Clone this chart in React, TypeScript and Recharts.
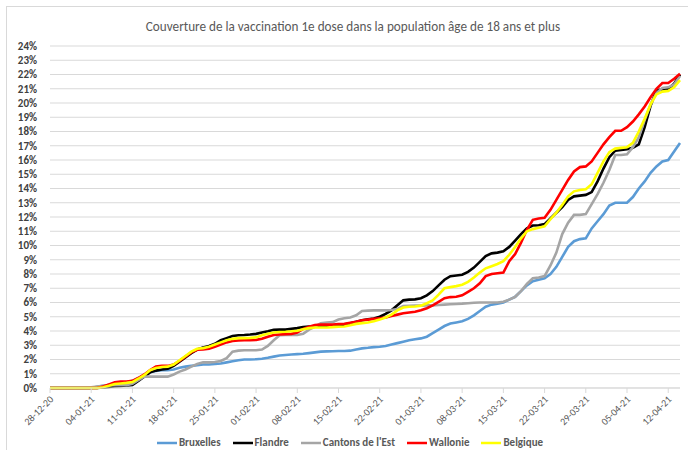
import React from 'react';
import { LineChart, Line, XAxis, YAxis, CartesianGrid } from 'recharts';

const dates = [
  '28-12-20','29-12-20','30-12-20','31-12-20',
  '01-01-21','02-01-21','03-01-21','04-01-21','05-01-21','06-01-21','07-01-21','08-01-21','09-01-21','10-01-21',
  '11-01-21','12-01-21','13-01-21','14-01-21','15-01-21','16-01-21','17-01-21','18-01-21','19-01-21','20-01-21',
  '21-01-21','22-01-21','23-01-21','24-01-21','25-01-21','26-01-21','27-01-21','28-01-21','29-01-21','30-01-21','31-01-21',
  '01-02-21','02-02-21','03-02-21','04-02-21','05-02-21','06-02-21','07-02-21','08-02-21','09-02-21','10-02-21',
  '11-02-21','12-02-21','13-02-21','14-02-21','15-02-21','16-02-21','17-02-21','18-02-21','19-02-21','20-02-21',
  '21-02-21','22-02-21','23-02-21','24-02-21','25-02-21','26-02-21','27-02-21','28-02-21',
  '01-03-21','02-03-21','03-03-21','04-03-21','05-03-21','06-03-21','07-03-21','08-03-21','09-03-21','10-03-21',
  '11-03-21','12-03-21','13-03-21','14-03-21','15-03-21','16-03-21','17-03-21','18-03-21','19-03-21','20-03-21',
  '21-03-21','22-03-21','23-03-21','24-03-21','25-03-21','26-03-21','27-03-21','28-03-21','29-03-21','30-03-21','31-03-21',
  '01-04-21','02-04-21','03-04-21','04-04-21','05-04-21','06-04-21','07-04-21','08-04-21','09-04-21','10-04-21',
  '11-04-21','12-04-21','13-04-21','14-04-21',
];

const bruxelles = [
  0,0,0,0,0,0,0,0,
  0.08,0.15,0.2,0.25,0.3,0.4,0.5,
  0.7,0.9,1.1,1.2,1.25,1.25,1.3,
  1.42,1.5,1.55,1.6,1.65,1.65,1.68,
  1.72,1.8,1.88,1.95,2.0,2.0,2.02,
  2.05,2.12,2.2,2.28,2.32,2.35,2.38,
  2.4,2.45,2.5,2.55,2.57,2.58,2.6,
  2.6,2.62,2.7,2.78,2.82,2.87,2.9,
  2.95,3.05,3.15,3.25,3.35,3.42,3.48,
  3.6,3.85,4.1,4.35,4.52,4.6,4.68,
  4.85,5.1,5.4,5.7,5.85,5.92,6.0,
  6.2,6.4,6.8,7.2,7.5,7.6,7.7,
  8.0,8.5,9.2,9.9,10.3,10.45,10.5,
  11.2,11.7,12.2,12.8,13.0,13.0,13.0,
  13.4,14.0,14.5,15.1,15.55,15.9,16.0,
  16.6,17.2,
];

const flandre = [
  0,0,0,0,0,0,0,0,
  0,0.03,0.08,0.12,0.15,0.18,0.22,
  0.5,0.8,1.1,1.22,1.3,1.36,1.55,
  1.85,2.15,2.45,2.7,2.85,2.95,3.1,
  3.35,3.5,3.65,3.7,3.72,3.75,3.8,
  3.9,3.98,4.08,4.1,4.1,4.15,4.2,
  4.28,4.32,4.35,4.35,4.37,4.38,4.4,
  4.45,4.55,4.65,4.75,4.82,4.88,5.0,
  5.2,5.45,5.8,6.15,6.2,6.22,6.3,
  6.5,6.8,7.2,7.6,7.85,7.9,7.95,
  8.15,8.45,8.85,9.25,9.45,9.5,9.6,
  9.9,10.35,10.8,11.2,11.4,11.42,11.5,
  11.9,12.3,12.7,13.2,13.45,13.5,13.55,
  13.75,14.5,15.4,16.2,16.65,16.7,16.75,
  16.85,17.1,18.3,19.8,20.9,20.95,21.0,
  21.35,22.0,
];

const cantons = [
  0,0,0,0,0,0,0,0.05,
  0.1,0.15,0.2,0.2,0.2,0.2,0.3,
  0.55,0.8,0.8,0.8,0.8,0.8,0.95,
  1.15,1.3,1.5,1.68,1.8,1.8,1.82,
  1.9,2.1,2.55,2.62,2.65,2.65,2.65,
  2.7,2.95,3.35,3.7,3.72,3.72,3.72,
  3.8,4.1,4.3,4.55,4.6,4.62,4.8,
  4.9,4.95,5.1,5.4,5.43,5.45,5.45,
  5.45,5.47,5.55,5.75,5.77,5.78,5.78,
  5.8,5.8,5.82,5.85,5.88,5.9,5.92,
  5.95,5.98,6.0,6.0,6.0,6.0,6.05,
  6.2,6.4,6.8,7.3,7.7,7.75,7.85,
  8.6,9.5,10.8,11.6,12.15,12.15,12.2,
  12.9,13.6,14.4,15.3,16.35,16.35,16.4,
  16.9,17.6,18.8,19.9,20.7,21.05,21.1,
  21.3,21.9,
];

const wallonie = [
  0,0,0,0,0,0,0,0,
  0,0.1,0.25,0.4,0.45,0.45,0.5,
  0.7,0.95,1.25,1.5,1.55,1.55,1.65,
  1.9,2.2,2.5,2.68,2.7,2.75,2.9,
  3.05,3.2,3.3,3.33,3.35,3.35,3.38,
  3.45,3.6,3.72,3.75,3.78,3.8,3.9,
  4.15,4.3,4.42,4.45,4.45,4.45,4.48,
  4.5,4.58,4.65,4.75,4.8,4.85,4.9,
  4.95,5.05,5.15,5.25,5.3,5.35,5.45,
  5.6,5.8,6.05,6.3,6.38,6.4,6.5,
  6.75,7.0,7.35,7.85,8.0,8.05,8.1,
  8.9,9.4,10.2,11.1,11.8,11.9,11.95,
  12.5,13.2,13.9,14.6,15.2,15.5,15.55,
  15.9,16.5,17.1,17.6,18.05,18.05,18.3,
  18.7,19.2,19.75,20.4,21.0,21.4,21.4,
  21.7,22.05,
];

const belgique = [
  0,0,0,0,0,0,0,0,
  0,0.05,0.15,0.28,0.32,0.36,0.42,
  0.65,0.9,1.25,1.4,1.47,1.5,1.65,
  1.95,2.25,2.55,2.75,2.8,2.9,3.05,
  3.2,3.35,3.45,3.5,3.5,3.52,3.55,
  3.7,3.8,3.9,3.93,3.95,3.98,4.02,
  4.12,4.2,4.25,4.25,4.25,4.27,4.3,
  4.32,4.4,4.5,4.55,4.6,4.68,4.8,
  4.95,5.15,5.45,5.65,5.7,5.72,5.78,
  5.95,6.15,6.55,7.0,7.08,7.15,7.25,
  7.45,7.75,8.1,8.4,8.55,8.7,8.9,
  9.35,9.9,10.5,11.0,11.15,11.25,11.35,
  11.85,12.3,12.85,13.45,13.8,13.9,13.95,
  14.3,15.1,15.9,16.55,16.8,16.85,16.9,
  17.2,18.0,18.9,19.9,20.6,20.8,20.85,
  21.1,21.6,
];

const yTicks = [0,1,2,3,4,5,6,7,8,9,10,11,12,13,14,15,16,17,18,19,20,21,22,23,24];

const series = [
  { key: 'bruxelles', name: 'Bruxelles', color: '#5B9BD5', values: bruxelles },
  { key: 'flandre', name: 'Flandre', color: '#000000', values: flandre },
  { key: 'cantons', name: "Cantons de l'Est", color: '#A5A5A5', values: cantons },
  { key: 'wallonie', name: 'Wallonie', color: '#FF0000', values: wallonie },
  { key: 'belgique', name: 'Belgique', color: '#FFFF00', values: belgique },
];

const title = 'Couverture de la vaccination 1e dose dans la population âge de 18 ans et plus';

const data = dates.map((d, i) => {
  const row: any = { date: d };
  series.forEach((s) => { row[s.key] = s.values[i]; });
  return row;
});

const FONT = 'Carlito, Calibri, Lato, "Open Sans", sans-serif';

const XTick = (props: any) => {
  const { x, y, payload } = props;
  return (
    <g transform={`translate(${x + 1.5},${y + 2.5})`}>
      <text x={0} y={0} dy="0.35em" textAnchor="end" transform="rotate(-45)" fill="#595959" fontSize={10} fontFamily={FONT}>
        {payload.value}
      </text>
    </g>
  );
};

export default function App() {
  return (
    <div style={{ position: 'fixed', left: 0, top: 0, width: 688, height: 450, overflow: 'hidden', background: '#fff' }}>
      <div style={{ position: 'absolute', left: 6, top: 6, width: 690, height: 460, border: '1px solid #d9d9d9', boxSizing: 'border-box' }} />
      <div style={{ position: 'absolute', left: 0, top: 18, width: 706, textAlign: 'center', fontFamily: FONT, fontSize: 13.2, color: '#595959', whiteSpace: 'nowrap' }}>
        {title}
      </div>
      <div style={{ position: 'absolute', left: 0, top: 0 }}>
        <LineChart width={688} height={450} data={data} margin={{ top: 46, right: 8, bottom: 12, left: 0 }}>
          <CartesianGrid vertical={false} stroke="#d9d9d9" strokeWidth={1} />
          <XAxis
            dataKey="date"
            interval={6}
            height={50}
            tick={<XTick />}
            tickSize={5}
            tickLine={{ stroke: '#d9d9d9' }}
            axisLine={{ stroke: '#d9d9d9' }}
          />
          <YAxis
            domain={[0, 24]}
            ticks={yTicks}
            width={50}
            tickFormatter={(v: number) => `${v}%`}
            tickLine={false}
            axisLine={false}
            tickSize={0}
            tickMargin={13}
            tick={{ fill: '#404040', fontSize: 11, fontWeight: 700, fontFamily: FONT }}
            interval={0}
          />
          {series.map((s) => (
            <Line key={s.key} type="linear" dataKey={s.key} name={s.name} stroke={s.color} strokeWidth={2.6} dot={false} activeDot={false} isAnimationActive={false} />
          ))}
        </LineChart>
      </div>
      <div style={{ position: 'absolute', left: -3, top: 436, width: 706, display: 'flex', justifyContent: 'center', alignItems: 'center', fontFamily: FONT, fontSize: 11, fontWeight: 700, color: '#595959' }}>
        {series.map((s) => (
          <div key={s.key} style={{ display: 'flex', alignItems: 'center', margin: '0 6px' }}>
            <svg width={20} height={4} style={{ marginRight: 2 }}>
              <line x1={0} y1={2} x2={20} y2={2} stroke={s.color} strokeWidth={2.5} />
            </svg>
            <span>{s.name}</span>
          </div>
        ))}
      </div>
    </div>
  );
}
